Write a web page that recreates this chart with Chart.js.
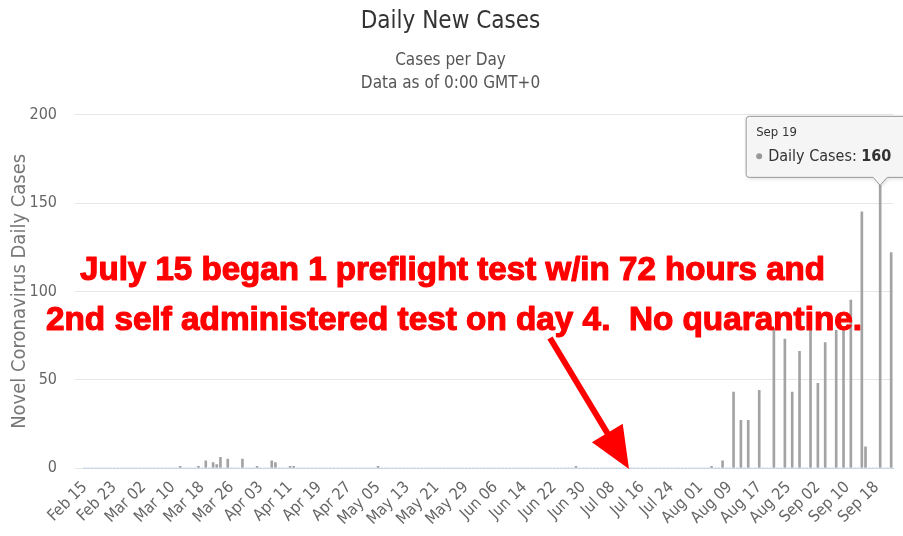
<!DOCTYPE html>
<html>
<head>
<meta charset="utf-8">
<script src="https://cdn.jsdelivr.net/npm/chart.js@4/dist/chart.umd.min.js"></script>
<style>
  html, body { margin: 0; background: #fff; }
  #wrap { width: 903px; height: 536px; }
</style>
</head>
<body>
<div id="wrap"><canvas id="chart"></canvas></div>
<script>
// every day from Feb 15 to Sep 22
const firstDay = Date.UTC(2020, 1, 15);
const dayCount = 221;
const monthNames = ['Jan', 'Feb', 'Mar', 'Apr', 'May', 'Jun', 'Jul', 'Aug', 'Sep', 'Oct', 'Nov', 'Dec'];
const days = [];
for (let i = 0; i < dayCount; i++) {
  const d = new Date(firstDay + i * 86400000);
  days.push(monthNames[d.getUTCMonth()] + ' ' + String(d.getUTCDate()).padStart(2, '0'));
}

// days with reported cases (all other days are 0)
const reportDays = ['Mar 12', 'Mar 17', 'Mar 19', 'Mar 21', 'Mar 22', 'Mar 23', 'Mar 25', 'Mar 29',
  'Apr 02', 'Apr 06', 'Apr 07', 'Apr 11', 'Apr 12', 'May 05', 'Jun 28',
  'Aug 04', 'Aug 07', 'Aug 10', 'Aug 12', 'Aug 14', 'Aug 17', 'Aug 21', 'Aug 24', 'Aug 26', 'Aug 28', 'Aug 31',
  'Sep 02', 'Sep 04', 'Sep 07', 'Sep 09', 'Sep 11', 'Sep 14', 'Sep 15', 'Sep 19', 'Sep 22'];
const reportCases = [1, 1, 4, 3, 2, 6, 5, 5,
  1, 4, 3, 1, 1, 1, 1,
  1, 4, 43, 27, 27, 44, 79, 73, 43, 66, 80,
  48, 71, 78, 78, 95, 145, 12, 160, 122];

const tickLabels = ['Feb 15', 'Feb 23', 'Mar 02', 'Mar 10', 'Mar 18', 'Mar 26', 'Apr 03', 'Apr 11',
  'Apr 19', 'Apr 27', 'May 05', 'May 13', 'May 21', 'May 29', 'Jun 06', 'Jun 14', 'Jun 22', 'Jun 30',
  'Jul 08', 'Jul 16', 'Jul 24', 'Aug 01', 'Aug 09', 'Aug 17', 'Aug 25', 'Sep 02', 'Sep 10', 'Sep 18'];

const highlightDay = 'Sep 19';

const dailyCases = days.map(d => {
  const k = reportDays.indexOf(d);
  return k >= 0 ? reportCases[k] : 0;
});

const narrow = '"Liberation Sans Narrow", "DejaVu Sans Condensed", "Roboto Condensed", "Liberation Sans", sans-serif';

// highcharts style tooltip callout on the highlighted bar
const callout = {
  id: 'callout',
  afterDatasetsDraw(chart) {
    const i = days.indexOf(highlightDay);
    const bar = chart.getDatasetMeta(0).data[i];
    const ctx = chart.ctx;
    const tipX = bar.x, tipY = bar.y;
    const bottom = tipY - 8, top = bottom - 61;
    const left = tipX - 134, right = tipX + 40;

    ctx.save();
    ctx.beginPath();
    ctx.moveTo(left + 3, top);
    ctx.lineTo(right, top);
    ctx.lineTo(right, bottom);
    ctx.lineTo(tipX + 7, bottom);
    ctx.lineTo(tipX, tipY);
    ctx.lineTo(tipX - 7, bottom);
    ctx.lineTo(left + 3, bottom);
    ctx.quadraticCurveTo(left, bottom, left, bottom - 3);
    ctx.lineTo(left, top + 3);
    ctx.quadraticCurveTo(left, top, left + 3, top);
    ctx.closePath();
    ctx.shadowColor = 'rgba(0,0,0,0.18)';
    ctx.shadowOffsetX = 1;
    ctx.shadowOffsetY = 1;
    ctx.shadowBlur = 4;
    ctx.fillStyle = 'rgba(247,247,247,0.92)';
    ctx.fill();
    ctx.shadowColor = 'transparent';
    ctx.strokeStyle = '#9a9a9a';
    ctx.lineWidth = 1;
    ctx.stroke();

    ctx.fillStyle = '#333';
    ctx.textBaseline = 'alphabetic';
    ctx.textAlign = 'left';
    ctx.font = '13px ' + narrow;
    ctx.fillText(highlightDay, left + 10, top + 20);

    ctx.fillStyle = '#999';
    ctx.beginPath();
    ctx.arc(left + 13, top + 40, 3, 0, Math.PI * 2);
    ctx.fill();

    ctx.fillStyle = '#333';
    ctx.font = '16px ' + narrow;
    const lab = 'Daily Cases: ';
    ctx.fillText(lab, left + 22, top + 45);
    const w = ctx.measureText(lab).width;
    ctx.font = 'bold 16px ' + narrow;
    ctx.fillText(String(dailyCases[i]), left + 22 + w, top + 45);
    ctx.restore();
  }
};

// red note and arrow laid over the chart
const note = {
  id: 'note',
  afterDraw(chart) {
    const ctx = chart.ctx;
    ctx.save();
    ctx.fillStyle = '#f00';
    ctx.strokeStyle = '#f00';
    ctx.lineWidth = 1.2;
    ctx.lineJoin = 'round';
    ctx.textBaseline = 'alphabetic';
    ctx.textAlign = 'left';
    ctx.font = 'bold 33px "Liberation Sans", Arial, sans-serif';
    const lines = [
      ['July 15 began 1 preflight test w/in 72 hours and', 80, 280, 745],
      ['2nd self administered test on day 4.  No quarantine.', 46, 330, 816]
    ];
    lines.forEach(([t, x, y, wantW]) => {
      const w = ctx.measureText(t).width;
      ctx.save();
      ctx.translate(x, y);
      ctx.scale(wantW / w, 1);
      ctx.fillText(t, 0, 0);
      ctx.strokeText(t, 0, 0);
      ctx.restore();
    });

    const sx = 550, sy = 338, tx = 629, ty = 469;
    const len = Math.hypot(tx - sx, ty - sy);
    const ux = (tx - sx) / len, uy = (ty - sy) / len;
    const px = -uy, py = ux;
    const bx = tx - ux * 42, by = ty - uy * 42;
    ctx.beginPath();
    ctx.moveTo(sx + px * 3, sy + py * 3);
    ctx.lineTo(bx + px * 3, by + py * 3);
    ctx.lineTo(bx + px * 18, by + py * 18);
    ctx.lineTo(tx, ty);
    ctx.lineTo(bx - px * 18, by - py * 18);
    ctx.lineTo(bx - px * 3, by - py * 3);
    ctx.lineTo(sx - px * 3, sy - py * 3);
    ctx.closePath();
    ctx.fill();
    ctx.restore();
  }
};

new Chart(document.getElementById('chart'), {
  type: 'bar',
  data: {
    labels: days,
    datasets: [{
      label: 'Daily Cases',
      data: dailyCases,
      backgroundColor: '#a3a3a3',
      barThickness: 2
    }]
  },
  options: {
    responsive: true,
    maintainAspectRatio: false,
    animation: false,
    devicePixelRatio: 1,
    layout: { padding: { left: 8, right: 10, top: 0, bottom: 4 } },
    plugins: {
      legend: { display: false },
      tooltip: { enabled: false },
      title: {
        display: true,
        text: 'Daily New Cases',
        color: '#333',
        font: { family: narrow, size: 24, weight: 'normal', lineHeight: 1.2 },
        padding: { top: 7, bottom: 0 }
      },
      subtitle: {
        display: true,
        text: ['Cases per Day', 'Data as of 0:00 GMT+0'],
        color: '#555',
        font: { family: narrow, size: 17, lineHeight: 1.35 },
        padding: { top: 13, bottom: 20 }
      }
    },
    scales: {
      x: {
        afterFit: s => { s.height = 64; },
        grid: { display: false },
        border: { color: '#ccd6eb' },
        ticks: {
          autoSkip: false,
          minRotation: 45,
          maxRotation: 45,
          color: '#666',
          font: { family: narrow, size: 16 },
          padding: 2,
          callback: (v, i) => tickLabels.includes(days[i]) ? days[i] : null
        }
      },
      y: {
        min: 0,
        max: 200,
        afterFit: s => { s.width = 75; },
        grid: { color: '#e6e6e6' },
        border: { display: false },
        ticks: {
          stepSize: 50,
          color: '#666',
          padding: 18,
          font: { family: narrow, size: 16 }
        },
        title: {
          display: true,
          text: 'Novel Coronavirus Daily Cases',
          color: '#777',
          font: { family: narrow, size: 20 },
          padding: { top: 0, bottom: 2 }
        }
      }
    }
  },
  plugins: [callout, note]
});
</script>
</body>
</html>
